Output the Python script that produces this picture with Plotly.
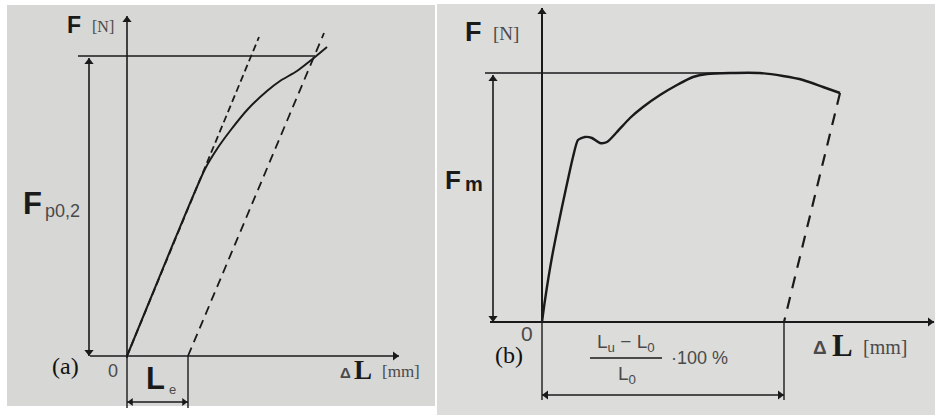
import plotly.graph_objects as go

# ---------------- data (panel a: proof-strength diagram) ----------------
# elongation dL and force F in drawing units, origin at axis crossing
a_curve_dL = [0, 48, 78, 90, 103, 121, 140, 153, 170, 188, 200]
a_curve_F = [0, 117, 187, 207, 225, 247, 265, 275, 285, 299, 309]
a_elastic_dL = [0, 132]
a_elastic_F = [0, 319]
a_offset_dL = [61, 197]
a_offset_F = [0, 323]
a_Fp = 300          # F_p0,2 level
a_Le = 61           # plastic offset L_e

# ---------------- data (panel b: tensile-strength diagram) ----------------
b_curve_dL = [0, 3, 10, 20, 28, 31, 36, 43, 50, 58, 65, 75, 88, 101, 118,
              135, 151, 165, 188, 218, 241, 261, 281, 298]
b_curve_F = [0, 22, 65, 115, 152, 165, 182, 185, 184, 179, 180, 190, 204,
             215, 227, 237, 245, 248, 249, 249, 246, 242, 235, 229]
b_unload_dL = [298, 242]
b_unload_F = [229, 0]
b_Fm = 249          # F_m level
b_Au = 242          # elongation after fracture

INK = "#1a1a1a"
GREY = "#4a4a4a"
SANS = "Liberation Sans"
SERIF = "Liberation Serif"

fig = go.Figure()

def line(xs, ys, ax, dash=None, w=1.8, smooth=True):
    fig.add_trace(go.Scatter(
        x=xs, y=ys, mode="lines", xaxis=ax[0], yaxis=ax[1],
        line=dict(color=INK, width=w, dash=dash,
                  shape="spline" if smooth else "linear", smoothing=0.6),
        hoverinfo="skip", showlegend=False))

def arrow(x0, y0, x1, y1, ax, both=False, w=1.6, s=8):
    line([x0, x1], [y0, y1], ax, w=w, smooth=False)
    if x0 == x1:
        up = y1 > y0
        end_sym, start_sym = ("triangle-up", "triangle-down") if up else ("triangle-down", "triangle-up")
        d = 4 if up else -4
        px, py = [x1], [y1 - d]
        syms = [end_sym]
        if both:
            px.append(x0); py.append(y0 + d); syms.append(start_sym)
    else:
        right = x1 > x0
        end_sym, start_sym = ("triangle-right", "triangle-left") if right else ("triangle-left", "triangle-right")
        d = 4 if right else -4
        px, py = [x1 - d], [y1]
        syms = [end_sym]
        if both:
            px.append(x0 + d); py.append(y0); syms.append(start_sym)
    fig.add_trace(go.Scatter(
        x=px, y=py, mode="markers", xaxis=ax[0], yaxis=ax[1],
        marker=dict(symbol=syms, size=s, color=INK, line=dict(width=0)),
        hoverinfo="skip", showlegend=False))

def text(x, y, s, xr, yr, size, family=SANS, color=INK, bold=False):
    fig.add_annotation(
        x=x, y=y, xref=xr, yref=yr, text=("<b>%s</b>" % s) if bold else s,
        showarrow=False, font=dict(family=family, size=size, color=color),
        xanchor="center", yanchor="middle")

# backgrounds (photographed paper)
fig.add_shape(type="rect", xref="paper", yref="paper",
              x0=7 / 935, x1=435 / 935, y0=1 - 406 / 415, y1=1 - 5 / 415,
              fillcolor="#d7d7d5", line=dict(width=0), layer="below")
fig.add_shape(type="rect", xref="paper", yref="paper",
              x0=437 / 935, x1=1, y0=0, y1=1 - 4 / 415,
              fillcolor="#dcdcda", line=dict(width=0), layer="below")

# ---------------- panel (a) ----------------
A = ("x", "y")
line(a_curve_dL, a_curve_F, A, w=2)
line(a_elastic_dL, a_elastic_F, A, dash="7px,4px", w=1.8)
line(a_offset_dL, a_offset_F, A, dash="9px,6px", w=1.8)
line([-49, 188], [a_Fp, a_Fp], A, w=1.4)
line([0, 0], [0, -52], A, w=1.4)
line([a_Le, a_Le], [0, -52], A, w=1.4)
arrow(0, -2, 0, 340, A)
arrow(-37, 0, 272, 0, A)
arrow(-38, 0, -38, a_Fp - 2, A, both=True)
arrow(0, -46, a_Le, -46, A, both=True, w=1.3, s=7)

text(-53, 331, "F", "x", "y", 23, bold=True)
text(-24, 330, "[N]", "x", "y", 16, SERIF, GREY)
text(-95, 153, "F", "x", "y", 31, bold=True)
text(-65, 145, "p0,2", "x", "y", 18, SANS, GREY)
text(-62, -10, "(a)", "x", "y", 24, SERIF, "#111")
text(-14, -15, "0", "x", "y", 18, SANS, GREY)
text(28, -22, "L", "x", "y", 31, bold=True)
text(45, -33, "e", "x", "y", 13, SANS, GREY)
text(218, -16, "Δ", "x", "y", 15, SANS, GREY, bold=True)
text(236, -14, "L", "x", "y", 27, SERIF, INK, bold=True)
text(274, -15, "[mm]", "x", "y", 17, SERIF, GREY)

# ---------------- panel (b) ----------------
B = ("x2", "y2")
line(b_curve_dL, b_curve_F, B, w=2.4)
line(b_unload_dL, b_unload_F, B, dash="12px,9px", w=2.2)
line([-57, 188], [b_Fm, b_Fm], B, w=1.4)
line([0, 0], [0, -78], B, w=1.4)
line([b_Au, b_Au], [0, -78], B, w=1.4)
line([48, 120], [-36, -36], B, w=1.3)
arrow(0, 0, 0, 314, B, w=2)
arrow(-52, 0, 392, 0, B, w=2)
arrow(-49, 0, -49, b_Fm - 2, B, both=True)
arrow(0, -73, b_Au, -73, B, both=True, w=1.6)

text(-69, 290, "F", "x2", "y2", 27, bold=True)
text(-36, 289, "[N]", "x2", "y2", 19, SERIF, GREY)
text(-89, 142, "F", "x2", "y2", 26, bold=True)
text(-68, 138, "m", "x2", "y2", 20, SANS, INK, bold=True)
text(-15, -11, "0", "x2", "y2", 21, SANS, GREY)
text(-33, -33, "(b)", "x2", "y2", 24, SERIF, "#111")
text(84, -21, "L<sub>u</sub> − L<sub>0</sub>", "x2", "y2", 19, SANS, GREY)
text(85, -53, "L<sub>0</sub>", "x2", "y2", 19, SANS, GREY)
text(157, -36, "·100 %", "x2", "y2", 18, SANS, GREY)
text(278, -25, "Δ", "x2", "y2", 19, SANS, GREY, bold=True)
text(300, -23, "L", "x2", "y2", 31, SERIF, INK, bold=True)
text(343, -25, "[mm]", "x2", "y2", 20, SERIF, GREY)

hidden = dict(visible=False, showgrid=False, zeroline=False, fixedrange=True)
fig.update_layout(
    width=935, height=415, margin=dict(l=0, r=0, t=0, b=0),
    paper_bgcolor="white", plot_bgcolor="rgba(0,0,0,0)",
    xaxis=dict(domain=[0, 436 / 935], range=[-127, 309], **hidden),
    yaxis=dict(domain=[0, 1], range=[-59, 356], **hidden),
    xaxis2=dict(domain=[436 / 935, 1], range=[-106, 393], anchor="y2", **hidden),
    yaxis2=dict(domain=[0, 1], range=[-93, 322], anchor="x2", **hidden),
    showlegend=False,
)

fig.write_html("out.html", config={"displayModeBar": False},
               post_script="document.body.style.margin='0';")
